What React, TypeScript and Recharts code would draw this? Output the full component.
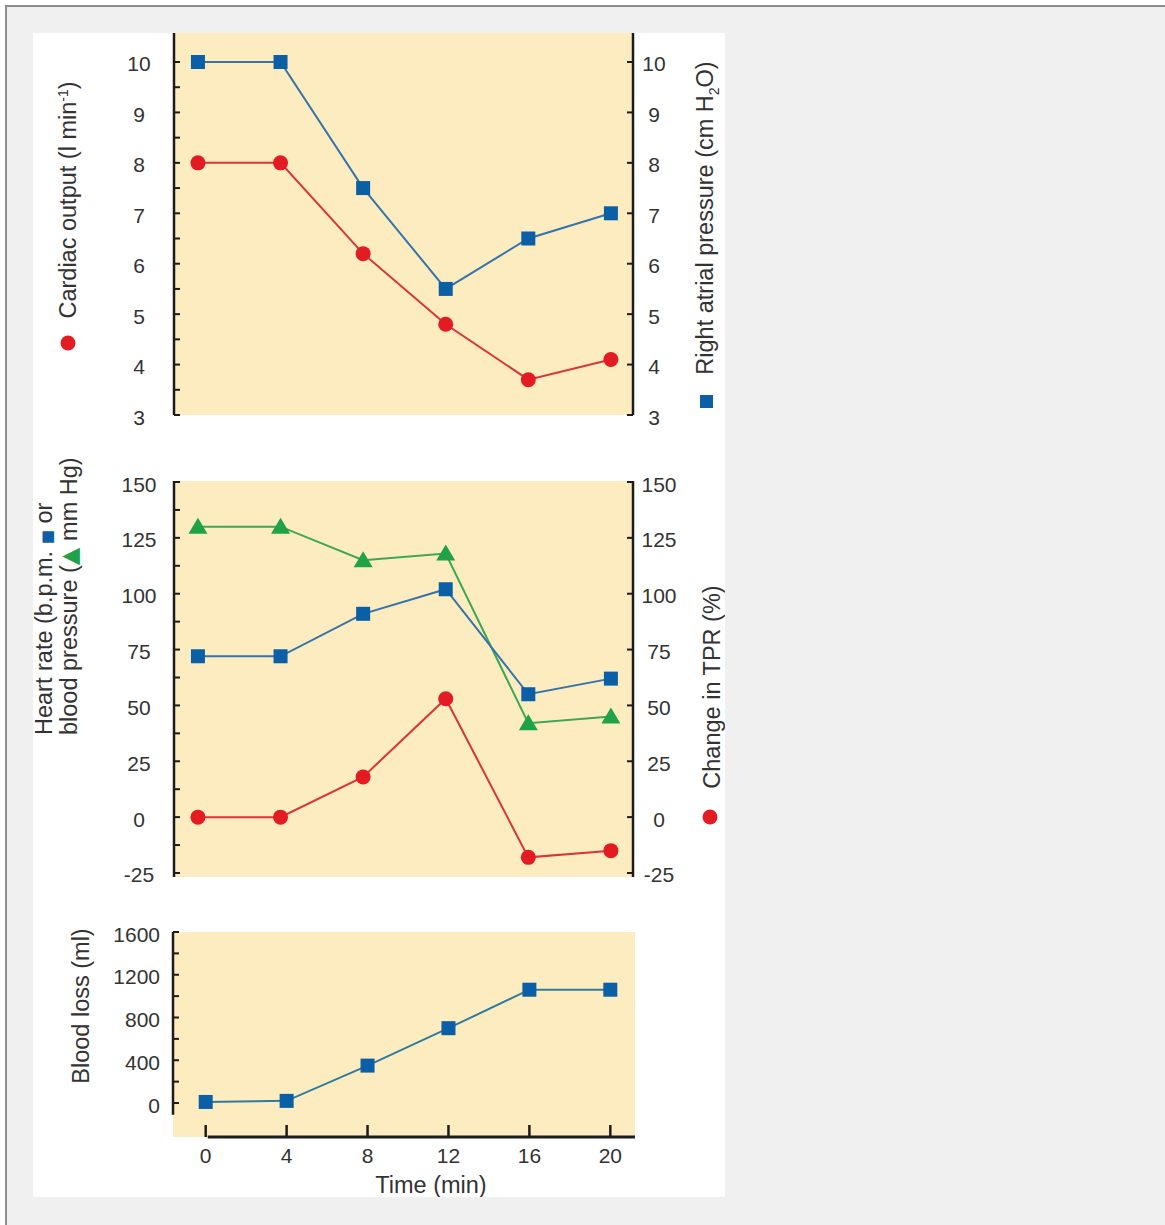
import React from 'react';
import { LineChart, Line, XAxis, YAxis, CartesianGrid, ReferenceLine } from 'recharts';

const FONT = '"Liberation Sans", Arial, sans-serif';
const INK = '#333333';
const AXIS = '#1c1c1c';
const BEIGE = '#fdecc0';
const BLUE = '#0b5fa6';
const BLUE_LINE = '#3474ab';
const TEAL_LINE = '#2f7b9e';
const RED = '#e31b23';
const RED_LINE = '#d9343b';
const GREEN = '#1fa24a';
const GREEN_LINE = '#3ca756';
const TITLE = 23.5;

// time points (min)
const time = [0, 4, 8, 12, 16, 20];
// top panel
const cardiacOutput = [8, 8, 6.2, 4.8, 3.7, 4.1];
const rightAtrialPressure = [10, 10, 7.5, 5.5, 6.5, 7];
// middle panel
const bloodPressure = [130, 130, 115, 118, 42, 45];
const heartRate = [72, 72, 91, 102, 55, 62];
const tprChange = [0, 0, 18, 53, -18, -15];
// bottom panel
const bloodLoss = [10, 20, 350, 700, 1060, 1060];

const topLeftTicks = [3, 3.5, 4, 4.5, 5, 5.5, 6, 6.5, 7, 7.5, 8, 8.5, 9, 9.5, 10];
const topRightTicks = [3, 4, 5, 6, 7, 8, 9, 10];
const midLeftTicks = [-25, -12.5, 0, 12.5, 25, 37.5, 50, 62.5, 75, 87.5, 100, 112.5, 125, 137.5, 150];
const midRightTicks = [-25, 0, 25, 50, 75, 100, 125, 150];
const lossTicks = [0, 200, 400, 600, 800, 1000, 1200, 1400, 1600];
const lossLabels = [0, 400, 800, 1200, 1600];
const timeTicks = [0, 4, 8, 12, 16, 20];

const topData = time.map((t, i) => ({ t, co: cardiacOutput[i], rap: rightAtrialPressure[i] }));
const midData = time.map((t, i) => ({ t, bp: bloodPressure[i], hr: heartRate[i], tpr: tprChange[i] }));
const lossData = time.map((t, i) => ({ t, loss: bloodLoss[i] }));

const Square = (p: any) =>
  p.cx == null ? null : <rect key={p.key} x={p.cx - 7} y={p.cy - 7} width={14} height={14} fill={BLUE} />;
const Circle = (p: any) =>
  p.cx == null ? null : <circle key={p.key} cx={p.cx} cy={p.cy} r={7.5} fill={RED} />;
const Triangle = (p: any) =>
  p.cx == null ? null : (
    <path key={p.key} d={`M${p.cx},${p.cy - 9} L${p.cx + 9.5},${p.cy + 7} L${p.cx - 9.5},${p.cy + 7} Z`} fill={GREEN} />
  );

// y ticks drawn inward, label only on majors
const yTick = (side: 'left' | 'right', labelled: (v: number) => boolean, dx: number, anchor = 'middle') => (p: any) => {
  const dir = side === 'left' ? 1 : -1;
  const v = p.payload.value;
  return (
    <g>
      <line x1={p.x} x2={p.x + dir * 6} y1={p.y} y2={p.y} stroke={AXIS} strokeWidth={2} />
      {labelled(v) && (
        <text x={p.x + dx} y={p.y + 2} textAnchor={anchor} dominantBaseline="central" fontSize={21} fill={INK} fontFamily={FONT}>
          {v}
        </text>
      )}
    </g>
  );
};

const xTick = (p: any) => (
  <g>
    <line x1={p.x} x2={p.x} y1={p.y - 12} y2={p.y} stroke={AXIS} strokeWidth={2.5} />
    <text x={p.x} y={p.y + 18} textAnchor="middle" dominantBaseline="central" fontSize={21} fill={INK} fontFamily={FONT}>
      {p.payload.value}
    </text>
  </g>
);

const vText = (x: number, y: number, children: React.ReactNode, anchor = 'middle') => (
  <text x={x} y={y} transform={`rotate(-90 ${x} ${y})`} textAnchor={anchor} fontSize={TITLE} fill={INK} fontFamily={FONT}>
    {children}
  </text>
);

const axisLine = { stroke: AXIS, strokeWidth: 2.5 };

export default function App() {
  return (
    <div style={{ position: 'absolute', left: 0, top: 0, width: 1165, height: 1225, overflow: 'hidden', fontFamily: FONT }}>
      <div
        style={{
          position: 'absolute', left: 5, top: 5, width: 1160, height: 1220, boxSizing: 'border-box',
          background: '#f0f0f0', borderTop: '2px solid #8e8e8e', borderLeft: '2px solid #8e8e8e',
        }}
      />
      <div style={{ position: 'absolute', left: 33, top: 33, width: 692, height: 1164, background: '#fff' }} />

      {/* top: cardiac output / right atrial pressure */}
      <div style={{ position: 'absolute', left: 33, top: 33 }}>
        <LineChart width={692} height={400} data={topData} margin={{ top: 0, right: 0, bottom: 18, left: 0 }}>
          <CartesianGrid horizontal={false} vertical={false} fill={BEIGE} />
          <XAxis dataKey="t" type="number" domain={[-1.16, 21.07]} hide />
          <YAxis
            width={141} domain={[3, 10.575]} ticks={topLeftTicks} interval={0} tickSize={0} tickMargin={0}
            tickLine={false} axisLine={axisLine} tick={yTick('left', (v) => Number.isInteger(v), -35)}
            label={() => (
              <g>
                {vText(43, 167, <>Cardiac output (l min<tspan dy={-8} fontSize={14}>-1</tspan><tspan dy={8}>)</tspan></>)}
                <circle cx={35} cy={310} r={7.5} fill={RED} />
              </g>
            )}
          />
          <YAxis
            yAxisId="right" orientation="right" width={92} domain={[3, 10.575]} ticks={topRightTicks} interval={0}
            tickSize={0} tickMargin={0} tickLine={false} axisLine={axisLine} tick={yTick('right', () => true, 21)}
            label={() => (
              <g>
                {vText(680, 185, <>Right atrial pressure (cm H<tspan dy={6} fontSize={14}>2</tspan><tspan dy={-6}>O)</tspan></>)}
                <rect x={667} y={362} width={13} height={13} fill={BLUE} />
              </g>
            )}
          />
          <Line yAxisId="right" dataKey="rap" stroke={BLUE_LINE} strokeWidth={2} dot={Square} activeDot={false} isAnimationActive={false} />
          <Line dataKey="co" stroke={RED_LINE} strokeWidth={2} dot={Circle} activeDot={false} isAnimationActive={false} />
        </LineChart>
      </div>

      {/* middle: heart rate, blood pressure, TPR */}
      <div style={{ position: 'absolute', left: 13, top: 441 }}>
        <LineChart width={712} height={460} data={midData} margin={{ top: 40, right: 0, bottom: 24, left: 0 }}>
          <CartesianGrid horizontal={false} vertical={false} fill={BEIGE} />
          <XAxis dataKey="t" type="number" domain={[-1.16, 21.07]} hide />
          <YAxis
            width={161} domain={[-26.8, 150.45]} ticks={midLeftTicks} interval={0} tickSize={0} tickMargin={0}
            tickLine={false} axisLine={axisLine} tick={yTick('left', (v) => v % 25 === 0, -35)}
            label={() => (
              <g>
                {vText(39, 294, <>Heart rate (b.p.m. <tspan fill={BLUE} fontSize={15} fontFamily="DejaVu Sans">■</tspan> or</>, 'start')}
                {vText(64, 294, <>blood pressure (<tspan fill={GREEN} fontSize={23} fontFamily="DejaVu Sans">▲</tspan> mm Hg)</>, 'start')}
              </g>
            )}
          />
          <YAxis
            yAxisId="right" orientation="right" width={92} domain={[-26.8, 150.45]} ticks={midRightTicks} interval={0}
            tickSize={0} tickMargin={0} tickLine={false} axisLine={axisLine} tick={yTick('right', () => true, 26)}
            label={() => (
              <g>
                {vText(707, 246, 'Change in TPR (%)')}
                <circle cx={697} cy={376} r={7.5} fill={RED} />
              </g>
            )}
          />
          <Line dataKey="bp" stroke={GREEN_LINE} strokeWidth={2} dot={Triangle} activeDot={false} isAnimationActive={false} />
          <Line dataKey="hr" stroke={BLUE_LINE} strokeWidth={2} dot={Square} activeDot={false} isAnimationActive={false} />
          <Line yAxisId="right" dataKey="tpr" stroke={RED_LINE} strokeWidth={2} dot={Circle} activeDot={false} isAnimationActive={false} />
        </LineChart>
      </div>

      {/* bottom: blood loss */}
      <div style={{ position: 'absolute', left: 33, top: 900 }}>
        <LineChart width={692} height={297} data={lossData} margin={{ top: 32, right: 90, bottom: 0, left: 0 }}>
          <CartesianGrid horizontal={false} vertical={false} fill={BEIGE} />
          <XAxis
            dataKey="t" type="number" domain={[-1.616, 21.22]} ticks={timeTicks} interval={0} height={60}
            tickSize={0} tickMargin={0} tickLine={false} axisLine={false} tick={xTick}
            label={() => (
              <text x={398} y={285} textAnchor="middle" dominantBaseline="central" fontSize={TITLE} fill={INK} fontFamily={FONT}>
                Time (min)
              </text>
            )}
          />
          <YAxis
            width={140} domain={[-318, 1600]} ticks={lossTicks} interval={0} tickSize={0} tickMargin={0}
            tickLine={false} axisLine={false} tick={yTick('left', (v) => lossLabels.includes(v), -13, 'end')}
            label={() => vText(56, 106, 'Blood loss (ml)')}
          />
          <ReferenceLine segment={[{ x: -1.616, y: -110 }, { x: -1.616, y: 1600 }]} stroke={AXIS} strokeWidth={2.5} />
          <ReferenceLine segment={[{ x: 0.1, y: -318 }, { x: 21.22, y: -318 }]} stroke={AXIS} strokeWidth={3} />
          <Line dataKey="loss" stroke={TEAL_LINE} strokeWidth={2} dot={Square} activeDot={false} isAnimationActive={false} />
        </LineChart>
      </div>
    </div>
  );
}
